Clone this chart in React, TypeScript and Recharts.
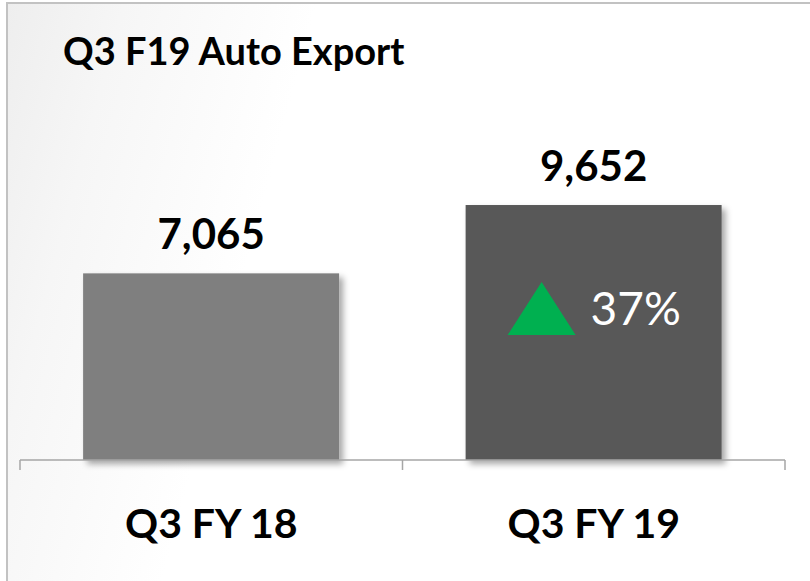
import React from 'react';
import { BarChart, Bar, XAxis, YAxis, LabelList, Cell } from 'recharts';

const categories = ['Q3 FY 18', 'Q3 FY 19'];
const exportValues = [7065, 9652];
const barColors = ['#7f7f7f', '#595959'];
const titleText = 'Q3 F19 Auto Export';

const data = categories.map((c, i) => ({ name: c, value: exportValues[i] }));
const growthPct = Math.round(((exportValues[1] - exportValues[0]) / exportValues[0]) * 100);

const FONT = 'Lato, "Open Sans", sans-serif';
const W = 810;
const H = 581;
const margin = { top: 143, right: 25, bottom: 91, left: 20 };
const band = (W - margin.left - margin.right) / categories.length;

const ShadowBar = (props: any) => {
  const { x, y, width, height, fill } = props;
  return <rect x={x} y={y} width={width} height={height} fill={fill} filter="url(#barShadow)" />;
};

const Tick = (props: any) => {
  const { x, y, payload, index } = props;
  const left = x - band / 2;
  const right = x + band / 2;
  return (
    <g>
      <line x1={left} y1={y - 8} x2={left} y2={y + 2} stroke="#a6a6a6" strokeWidth={1.5} />
      {index === categories.length - 1 && (
        <line x1={right} y1={y - 8} x2={right} y2={y + 2} stroke="#a6a6a6" strokeWidth={1.5} />
      )}
      <text x={x} y={y + 70} textAnchor="middle" fontFamily={FONT} fontWeight={700} fontSize={41} fill="#000">
        {payload.value}
      </text>
    </g>
  );
};

const ValueLabel = (props: any) => {
  const { x, y, width, value } = props;
  return (
    <text x={x + width / 2} y={y - 24} textAnchor="middle" fontFamily={FONT} fontWeight={700} fontSize={42} fill="#000">
      {Number(value).toLocaleString('en-US')}
    </text>
  );
};

const GrowthLabel = (props: any) => {
  const { x, y, index } = props;
  if (index !== 1) return null;
  const tx = x + 42;
  const ty = y + 77;
  return (
    <g>
      <polygon points={`${tx},${ty + 53} ${tx + 68},${ty + 53} ${tx + 34},${ty}`} fill="#00b050" />
      <text x={x + 125} y={y + 120} fontFamily={FONT} fontSize={46} fill="#ffffff">
        {`${growthPct}%`}
      </text>
    </g>
  );
};

export default function App() {
  return (
    <div style={{ position: 'absolute', left: 0, top: 0, width: W, height: H, overflow: 'hidden', background: '#fff' }}>
      <div
        style={{
          position: 'absolute',
          left: 6,
          top: 2,
          width: W,
          height: H,
          borderTop: '2px solid #c2c2c2',
          borderLeft: '2px solid #c2c2c2',
          background: 'linear-gradient(105deg, #eeeeee 0%, #f6f6f6 12%, #ffffff 32%)',
        }}
      />
      <div
        style={{
          position: 'absolute',
          left: 63,
          top: 27,
          fontFamily: FONT,
          fontWeight: 700,
          fontSize: 38,
          color: '#000',
          whiteSpace: 'nowrap',
        }}
      >
        {titleText}
      </div>
      <div style={{ position: 'absolute', left: 0, top: 0 }}>
        <BarChart width={W} height={H} data={data} margin={margin} barCategoryGap="16.5%">
          <defs>
            <filter id="barShadow" x="-10%" y="-10%" width="130%" height="130%">
              <feDropShadow dx="4" dy="4" stdDeviation="3" floodColor="#000" floodOpacity="0.35" />
            </filter>
          </defs>
          <YAxis hide domain={[0, 12000]} />
          <XAxis
            dataKey="name"
            axisLine={{ stroke: '#a6a6a6', strokeWidth: 1.5 }}
            tickLine={false}
            tick={<Tick />}
            interval={0}
          />
          <Bar dataKey="value" isAnimationActive={false} shape={<ShadowBar />}>
            {data.map((d, i) => (
              <Cell key={d.name} fill={barColors[i]} />
            ))}
            <LabelList dataKey="value" content={<ValueLabel />} />
            <LabelList dataKey="value" content={<GrowthLabel />} />
          </Bar>
        </BarChart>
      </div>
    </div>
  );
}
